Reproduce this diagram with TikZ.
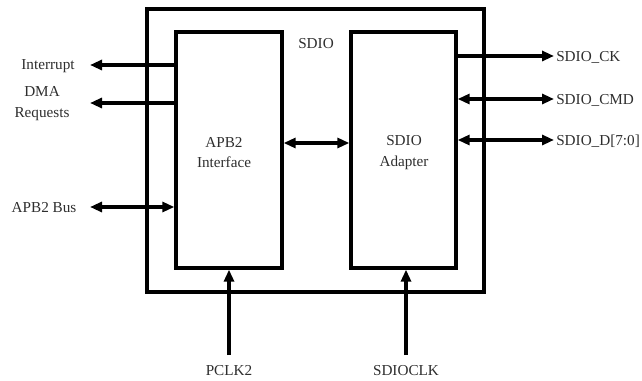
\documentclass[tikz,border=0pt]{standalone}
\usepackage{fontspec}
\setmainfont{Liberation Serif}
\usetikzlibrary{arrows.meta}
\begin{document}
\begin{tikzpicture}[x=0.75pt,y=-0.75pt,
  box/.style={draw=black,line width=2.5pt,inner sep=0pt},
  lbl/.style={text=black!82,font=\fontsize{11.4}{15.5}\selectfont,inner sep=0pt,align=center},
  conn/.style={line width=2.5pt,-{Triangle[length=9pt,width=7.5pt]}},
  biconn/.style={line width=2.5pt,{Triangle[length=9pt,width=7.5pt]}-{Triangle[length=9pt,width=7.5pt]}}]
\useasboundingbox (0,0) rectangle (642,381);
% boxes
\node[box,minimum width=337*0.75pt,minimum height=283*0.75pt] (outer) at (315.5,150.5) {};
\node[box,minimum width=106*0.75pt,minimum height=236*0.75pt] (apb) at (229,150) {};
\node[box,minimum width=105*0.75pt,minimum height=236*0.75pt] (ada) at (403.5,150) {};
% box texts
\node[lbl] (sdiot) at (316,44) {SDIO};
\node[lbl] (apbt) at (224,152.5) {APB2\\Interface};
\node[lbl] (adat) at (404,152.5) {SDIO\\Adapter};
% left labels
\node[lbl] (intl) at (48,66) {Interrupt};
\node[lbl] (dmal) at (42,103.5) {DMA\\Requests};
\node[lbl] (busl) at (44,208) {APB2 Bus};
\coordinate (intp) at (90,65);
\coordinate (dmap) at (90,103);
\coordinate (busp) at (90,207);
\draw[conn] (apb.west |- intp) -- (intp);
\draw[conn] (apb.west |- dmap) -- (dmap);
\draw[biconn] (busp) -- (apb.west |- busp);
% middle
\draw[biconn] (apb.east |- 0,143) -- (ada.west |- 0,143);
% right labels
\node[lbl,anchor=west] (ckl) at (556,57) {SDIO\_CK};
\node[lbl,anchor=west] (cmdl) at (556,100) {SDIO\_CMD};
\node[lbl,anchor=west] (dl) at (556,141) {SDIO\_D[7:0]};
\coordinate (ckp) at (554,56);
\coordinate (cmdp) at (554,99);
\coordinate (dp) at (554,140);
\draw[conn] (ada.east |- ckp) -- (ckp);
\draw[biconn] (ada.east |- cmdp) -- (cmdp);
\draw[biconn] (ada.east |- dp) -- (dp);
% bottom
\node[lbl] (pcl) at (229,371) {PCLK2};
\node[lbl] (scl) at (406,371) {SDIOCLK};
\coordinate (pcp) at (229,355);
\coordinate (scp) at (406,355);
\draw[conn] (pcp) -- (pcp |- apb.south);
\draw[conn] (scp) -- (scp |- ada.south);
\end{tikzpicture}
\end{document}
